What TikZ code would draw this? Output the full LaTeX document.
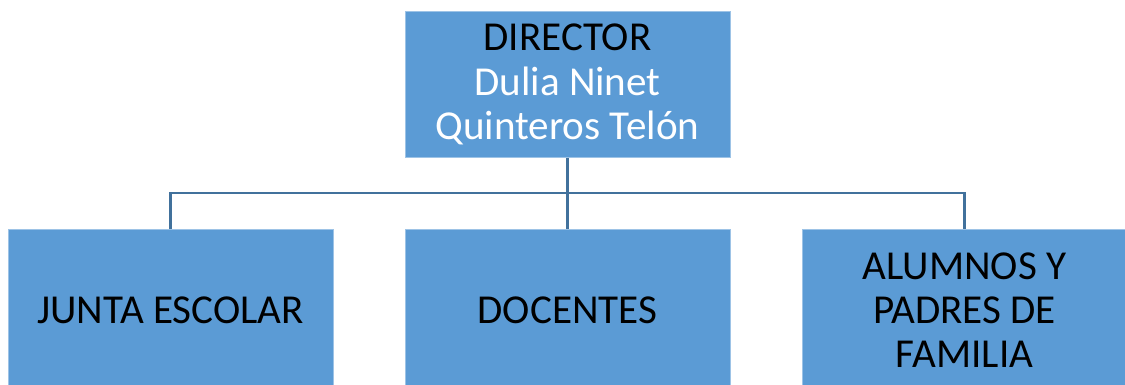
\documentclass[tikz,border=0pt]{standalone}
\usepackage{fontspec}
\setmainfont{Carlito}

\begin{document}
\begin{tikzpicture}[x=0.02cm,y=-0.02cm]
\definecolor{boxblue}{HTML}{5B9BD5}
\definecolor{lineblue}{HTML}{41719C}
\tikzstyle{every node}+=[inner sep=0pt]
\tikzstyle{orgbox}=[fill=boxblue, draw=boxblue!60!white, line width=0.4pt, align=center, font=\fontsize{23.4}{25.2}\selectfont]
\tikzstyle{link}=[lineblue, line width=1.5pt]
\useasboundingbox (0,0) rectangle (1125,385);
\node [orgbox, minimum width=6.5cm, minimum height=2.92cm] (dir) at (567.5,84.5) {DIRECTOR\\\textcolor{white}{Dulia Ninet}\\\textcolor{white}{Quinteros Telón}};
\node [orgbox, minimum width=6.5cm, minimum height=3.24cm, anchor=north] (junta) at (170.5,229) {JUNTA ESCOLAR};
\node [orgbox, minimum width=6.5cm, minimum height=3.24cm, anchor=north] (doc) at (567.5,229) {DOCENTES};
\node [orgbox, minimum width=6.5cm, minimum height=3.24cm, anchor=north] (alum) at (964.5,229) {ALUMNOS Y\\PADRES DE\\FAMILIA};
\draw [link] (dir.south) -- (doc.north);
\draw [link] (junta.north) -- ++(0,-36) -| (alum.north);
\end{tikzpicture}
\end{document}
